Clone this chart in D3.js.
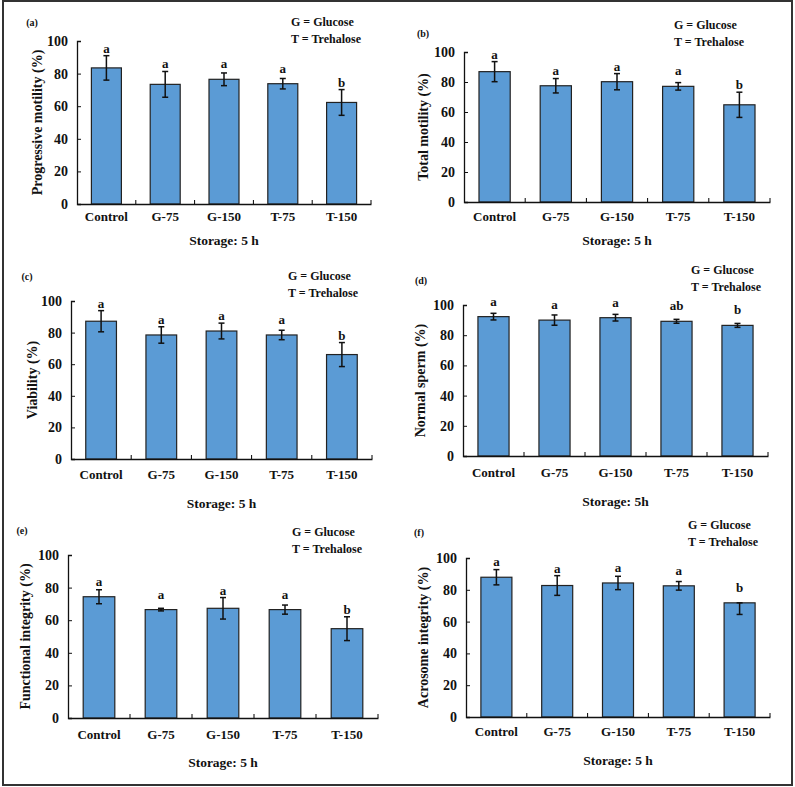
<!DOCTYPE html>
<html>
<head>
<meta charset="utf-8">
<script src="https://cdn.jsdelivr.net/npm/d3@7"></script>
<style>
  body { margin: 0; background: #fff; }
  svg text { font-family: "Liberation Serif", "Times New Roman", serif; font-weight: bold; fill: #111; }
</style>
</head>
<body>
<div id="chart"></div>
<script>
// categories shared by all six panels
const categories = ["Control", "G-75", "G-150", "T-75", "T-150"];
const yTicks = [0, 20, 40, 60, 80, 100];

// (a) progressive motility
const progMotility = [83.5, 73.4, 76.5, 73.8, 62.3];
const progMotilityErr = [7.5, 7.9, 3.9, 3.2, 7.9];
const progMotilityLetters = ["a", "a", "a", "a", "b"];

// (b) total motility
const totalMotility = [86.9, 77.5, 80.2, 77.1, 64.8];
const totalMotilityErr = [6.7, 4.8, 5.4, 2.5, 8.4];
const totalMotilityLetters = ["a", "a", "a", "a", "b"];

// (c) viability
const viability = [87.2, 78.5, 81.0, 78.5, 66.1];
const viabilityErr = [6.7, 5.2, 5.0, 3.0, 7.6];
const viabilityLetters = ["a", "a", "a", "a", "b"];

// (d) normal sperm
const normalSperm = [92.3, 90.0, 91.6, 89.2, 86.5];
const normalSpermErr = [2.2, 3.4, 2.2, 1.3, 1.3];
const normalSpermLetters = ["a", "a", "a", "ab", "b"];

// (e) functional integrity
const functionalIntegrity = [74.4, 66.5, 67.3, 66.5, 54.8];
const functionalIntegrityErr = [4.3, 0.8, 6.6, 2.8, 7.3];
const functionalIntegrityLetters = ["a", "a", "a", "a", "b"];

// (f) acrosome integrity (last bar only has the lower half of its error bar)
const acrosomeIntegrity = [87.9, 82.7, 84.3, 82.5, 71.8];
const acrosomeIntegrityErr = [4.8, 6.2, 4.2, 2.7, 7.3];
const acrosomeIntegrityErrUp = [4.8, 6.2, 4.2, 2.7, 0];
const acrosomeIntegrityLetters = ["a", "a", "a", "a", "b"];

let W = 795, H = 787;

let svg = d3.select("#chart")
  .append("svg")
    .attr("width", W)
    .attr("height", H);

// outer frame
svg.append("rect")
  .attr("x", 3).attr("y", 1)
  .attr("width", 789).attr("height", 784)
  .attr("fill", "none")
  .attr("stroke", "#333")
  .attr("stroke-width", 2);

// panel layouts (axis box in pixels, text positions)
let panels = [
  { tag: "(a)", title: "Progressive motility (%)", values: progMotility, err: progMotilityErr, letters: progMotilityLetters,
    x0: 77, x1: 371, yTop: 41, yBot: 204, titleX: 37, tagX: 32, tagY: 22, legX: 291, legY: 22, labY: 221, storY: 240, storage: "Storage: 5 h" },
  { tag: "(b)", title: "Total motility (%)", values: totalMotility, err: totalMotilityErr, letters: totalMotilityLetters,
    x0: 464, x1: 770, yTop: 52, yBot: 202, titleX: 423, tagX: 423, tagY: 33, legX: 674, legY: 25, labY: 221, storY: 240, storage: "Storage: 5 h" },
  { tag: "(c)", title: "Viability (%)", values: viability, err: viabilityErr, letters: viabilityLetters,
    x0: 71, x1: 372, yTop: 301, yBot: 459, titleX: 32, tagX: 27, tagY: 276, legX: 288, legY: 276, labY: 479, storY: 503, storage: "Storage: 5 h" },
  { tag: "(d)", title: "Normal sperm (%)", values: normalSperm, err: normalSpermErr, letters: normalSpermLetters,
    x0: 463, x1: 768, yTop: 305, yBot: 456, titleX: 420, tagX: 421, tagY: 280, legX: 691, legY: 270, labY: 477, storY: 501, storage: "Storage: 5h" },
  { tag: "(e)", title: "Functional integrity (%)", values: functionalIntegrity, err: functionalIntegrityErr, letters: functionalIntegrityLetters,
    x0: 68, x1: 378, yTop: 555, yBot: 718, titleX: 25, tagX: 22, tagY: 530, legX: 292, legY: 532, labY: 739, storY: 762, storage: "Storage: 5 h" },
  { tag: "(f)", title: "Acrosome integrity (%)", values: acrosomeIntegrity, err: acrosomeIntegrityErr, errUp: acrosomeIntegrityErrUp, letters: acrosomeIntegrityLetters,
    x0: 466, x1: 770, yTop: 558, yBot: 717, titleX: 423, tagX: 419, tagY: 532, legX: 688, legY: 525, labY: 736, storY: 760, storage: "Storage: 5 h" }
];

panels.forEach(function (p) {
  let g = svg.append("g");

  let x = d3.scaleBand()
      .domain(categories)
      .range([p.x0, p.x1])
      .paddingInner(0.49)
      .paddingOuter(0.245);

  let y = d3.scaleLinear()
      .domain([0, 100])
      .range([p.yBot, p.yTop]);

  let data = categories.map(function (c, i) {
    return { cat: c, v: p.values[i], lo: p.err[i], up: p.errUp ? p.errUp[i] : p.err[i], letter: p.letters[i] };
  });

  // bars
  g.selectAll("rect.bar")
    .data(data)
    .enter()
    .append("rect")
      .attr("class", "bar")
      .attr("x", function (d) { return x(d.cat); })
      .attr("y", function (d) { return y(d.v); })
      .attr("width", x.bandwidth())
      .attr("height", function (d) { return y(0) - y(d.v); })
      .attr("fill", "#5b9bd5")
      .attr("stroke", "#222")
      .attr("stroke-width", 1.2);

  // error bars
  let eb = g.selectAll("g.err")
    .data(data)
    .enter()
    .append("g")
      .attr("class", "err")
      .attr("stroke", "#111")
      .attr("stroke-width", 1.5);
  let cx = function (d) { return x(d.cat) + x.bandwidth() / 2; };
  eb.append("line")
    .attr("x1", cx).attr("x2", cx)
    .attr("y1", function (d) { return y(d.v + d.up); })
    .attr("y2", function (d) { return y(d.v - d.lo); });
  eb.append("line")
    .attr("x1", function (d) { return cx(d) - 3; }).attr("x2", function (d) { return cx(d) + 3; })
    .attr("y1", function (d) { return y(d.v + d.up); })
    .attr("y2", function (d) { return y(d.v + d.up); });
  eb.append("line")
    .attr("x1", function (d) { return cx(d) - 3; }).attr("x2", function (d) { return cx(d) + 3; })
    .attr("y1", function (d) { return y(d.v - d.lo); })
    .attr("y2", function (d) { return y(d.v - d.lo); });

  // significance letters
  g.selectAll("text.letter")
    .data(data)
    .enter()
    .append("text")
      .attr("class", "letter")
      .attr("x", cx)
      .attr("y", function (d) { return Math.min(y(d.v + d.up), y(d.v) - 8) - 3; })
      .attr("text-anchor", "middle")
      .style("font-size", "13px")
      .text(function (d) { return d.letter; });

  // Y axis, ticks pointing inward
  let yAxis = g.append("g")
      .attr("transform", "translate(" + p.x0 + ",0)")
      .call(d3.axisLeft(y).tickValues(yTicks).tickSize(-4).tickPadding(9));
  yAxis.selectAll("text").style("font-size", "14px");

  // X axis with ticks between categories, pointing up
  let xAxis = g.append("g")
      .attr("transform", "translate(0," + p.yBot + ")")
      .call(d3.axisBottom(x).tickSize(0).tickPadding(p.labY - p.yBot - 5));
  xAxis.selectAll("text").style("font-size", "13px").attr("dy", "0.35em");
  let bounds = categories.map(function (c) { return x(c) + x.bandwidth() + x.step() * x.paddingInner() / 2; });
  xAxis.selectAll("line.sep")
    .data(bounds)
    .enter()
    .append("line")
      .attr("class", "sep")
      .attr("x1", function (d) { return d; }).attr("x2", function (d) { return d; })
      .attr("y1", 0).attr("y2", -4)
      .attr("stroke", "#000");

  g.selectAll(".domain").attr("stroke", "#111").attr("stroke-width", 1.3);
  g.selectAll(".tick line").attr("stroke", "#111");

  // axis titles
  g.append("text")
    .attr("transform", "translate(" + p.titleX + "," + ((p.yTop + p.yBot) / 2) + ") rotate(-90)")
    .attr("text-anchor", "middle")
    .attr("dy", "0.35em")
    .style("font-size", "14px")
    .text(p.title);

  g.append("text")
    .attr("x", (p.x0 + p.x1) / 2)
    .attr("y", p.storY)
    .attr("dy", "0.35em")
    .attr("text-anchor", "middle")
    .style("font-size", "13.5px")
    .text(p.storage);

  // panel tag
  g.append("text")
    .attr("x", p.tagX)
    .attr("y", p.tagY)
    .attr("dy", "0.35em")
    .attr("text-anchor", "middle")
    .style("font-size", "10px")
    .text(p.tag);

  // legend text
  g.append("text")
    .attr("x", p.legX).attr("y", p.legY).attr("dy", "0.35em")
    .style("font-size", "12px")
    .text("G = Glucose");
  g.append("text")
    .attr("x", p.legX).attr("y", p.legY + 17).attr("dy", "0.35em")
    .style("font-size", "12px")
    .text("T = Trehalose");
});
</script>
</body>
</html>
